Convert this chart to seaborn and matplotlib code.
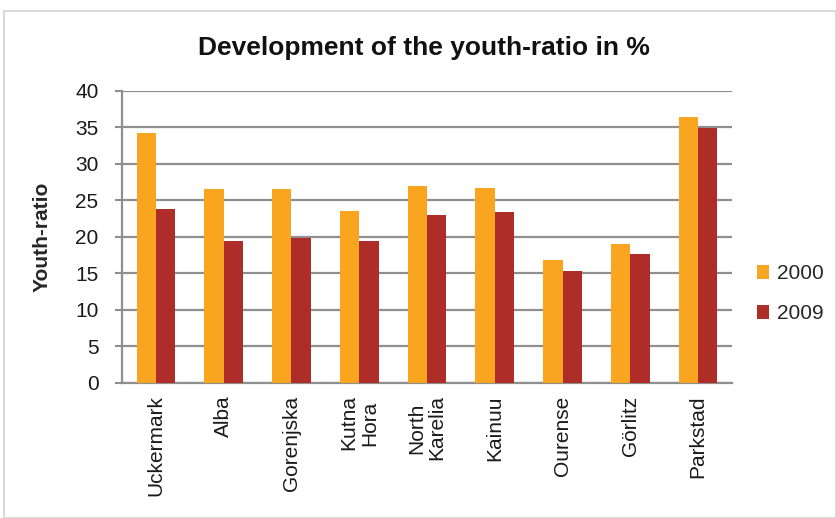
import matplotlib
matplotlib.use("Agg")
import matplotlib.pyplot as plt
import seaborn as sns
import pandas as pd
import numpy as np
from matplotlib.patches import Rectangle

regions = ["Uckermark", "Alba", "Gorenjska", "Kutna\nHora", "North\nKarelia",
           "Kainuu", "Ourense", "Görlitz", "Parkstad"]
years = ["2000", "2009"]
values_2000 = [34.2, 26.5, 26.6, 23.6, 26.95, 26.7, 16.85, 19.05, 36.35]
values_2009 = [23.75, 19.45, 19.8, 19.45, 23.05, 23.4, 15.3, 17.6, 34.9]
yticks = [0, 5, 10, 15, 20, 25, 30, 35, 40]

df = pd.DataFrame({
    "region": regions * 2,
    "year": [years[0]] * len(regions) + [years[1]] * len(regions),
    "value": values_2000 + values_2009,
})

sns.set_theme(style="white")
plt.rcParams["font.family"] = ["Liberation Sans", "DejaVu Sans"]

fig = plt.figure(figsize=(8.36, 5.18), dpi=100)
ax = fig.add_axes([122/836, 1 - 383/518, 610/836, (383 - 90.7)/518])

palette = {"2000": "#F9A51F", "2009": "#AE2D28"}
sns.barplot(data=df, x="region", y="value", hue="year", palette=palette,
            width=0.57, ax=ax, saturation=1, edgecolor="none", zorder=3)

ax.set_ylim(0, 40)
ax.set_xlim(-0.5, len(regions) - 0.5)
ax.set_yticks(yticks)
ax.set_yticklabels([str(t) for t in yticks], fontsize=15, color="#1a1a1a")
ax.yaxis.grid(True, color="#8f8f8f", linewidth=1.6, zorder=0)
ax.set_axisbelow(True)

for s in ["top", "right"]:
    ax.spines[s].set_visible(False)
for s in ["left", "bottom"]:
    ax.spines[s].set_color("#8f8f8f")
    ax.spines[s].set_linewidth(1.6)

ax.set_xticks(np.arange(len(regions)))
ax.set_xticklabels(regions, rotation=90, fontsize=15, color="#1a1a1a",
                   va="top", ha="center", multialignment="center",
                   linespacing=1.1)
ax.set_xticks(np.arange(-0.5, len(regions)), minor=True)
ax.tick_params(axis="x", which="major", length=0, pad=9)
ax.tick_params(axis="x", which="minor", length=6, width=1.5, color="#8f8f8f", direction="out")
ax.tick_params(axis="y", which="major", length=5, width=1.5, color="#8f8f8f", direction="out", pad=12, left=True)

ax.set_xlabel("")
ax.set_ylabel("Youth-ratio", fontsize=15, fontweight="bold")
ax.yaxis.set_label_coords(-0.115, 0.5)

leg = ax.legend(title=None, loc="center left", bbox_to_anchor=(1.01, 0.305),
                frameon=False, fontsize=15, handlelength=0.6, handleheight=0.6,
                handletextpad=0.35, labelspacing=1.0)

fig.text(424/836, 1 - 48/518, "Development of the youth-ratio in %",
         ha="center", va="center", fontsize=19, fontweight="bold", color="#111111")

fig.patches.append(Rectangle((4/836, 0), 1 - 4/836, 1 - 11/518,
                             transform=fig.transFigure, fill=False,
                             edgecolor="#d9d9d9", linewidth=1.5))

fig.savefig("out.png", dpi=100)
